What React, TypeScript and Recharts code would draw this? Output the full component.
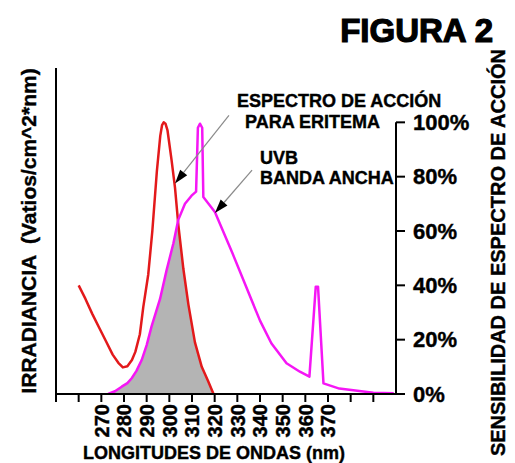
import React from 'react';
import { ComposedChart, Line, Area, XAxis, YAxis, ReferenceLine } from 'recharts';

// Eritema action spectrum (red), % scale
const eritemaX = [260, 263, 266, 269, 272, 275, 277.5, 279.5, 281.5, 283.5, 285, 287, 288.5, 290.7, 292.5, 294.5, 296, 296.8, 297.5, 298.3, 299.2, 301, 302.5, 304, 306.2, 308.4, 311.3, 314.3, 317, 319.5];
const eritemaY = [40, 35, 29.5, 24.5, 19.5, 14.5, 11.5, 9.8, 10.2, 12.5, 15.5, 22, 32, 44, 60, 82, 95, 99, 100, 99.5, 97, 86, 76, 62, 46, 33, 19, 10, 5, 0];

// UVB broadband lamp irradiance (magenta)
const uvbX = [273, 276, 279, 281.5, 283.4, 285.5, 287.8, 290, 292.2, 295.9, 298.8, 301.8, 303.9, 306.9, 309.8, 311.8, 312.6, 313.5, 314.5, 315, 320.1, 328, 340, 345, 351.7, 357.6, 361.8, 364.6, 365.6, 368, 375, 390, 399];
const uvbY = [0, 1, 2.7, 4, 5.8, 8.5, 12.5, 18, 25, 35, 45.6, 55.5, 64, 70, 73, 74.5, 98, 99.5, 98, 72.5, 67, 51.5, 27, 18.7, 11.3, 8.2, 6.4, 39.5, 39.5, 3.9, 2, 0.5, 0.3];

// Overlap region (gray)
const overlapX = [273, 276, 279, 281.5, 283.4, 285.5, 287.8, 290, 292.2, 295.9, 298.8, 301.8, 303.3, 304, 306.2, 308.4, 311.3, 314.3, 317, 319.5];
const overlapY = [0, 1, 2.7, 4, 5.8, 8.5, 12.5, 18, 25, 35, 45.6, 55.5, 62, 62, 46, 33, 19, 10, 5, 0];

const xTicks = [250, 260, 270, 280, 290, 300, 310, 320, 330, 340, 350, 360, 370, 380, 390];
const xLabeled = [270, 280, 290, 300, 310, 320, 330, 340, 350, 360, 370];
const leftTicks = [0, 20, 40, 60, 80, 100, 120];
const rightTicks = [0, 20, 40, 60, 80, 100];

const eritema = eritemaX.map((x, i) => ({ x, y: eritemaY[i] }));
const uvb = uvbX.map((x, i) => ({ x, y: uvbY[i] }));
const overlap = overlapX.map((x, i) => ({ x, y: overlapY[i] }));

const FONT = '"Liberation Sans", Arial, sans-serif';

const XTick = (props: any) => {
  const { x, y, payload } = props;
  if (!xLabeled.includes(payload.value)) return null;
  return (
    <text
      x={x}
      y={y}
      dy="0.36em"
      transform={`rotate(-90 ${x} ${y})`}
      textAnchor="end"
      fontFamily={FONT}
      fontWeight="bold"
      fontSize={20}
      fill="#000"
      stroke="#000"
      strokeWidth={0.4}
    >
      {payload.value}
    </text>
  );
};

const Arrow = (p: any) => {
  const { x1, y1, x2, y2 } = p;
  const ang = Math.atan2(y2 - y1, x2 - x1);
  const L = 14;
  const W = 4.5;
  const c = Math.cos(ang);
  const s = Math.sin(ang);
  const bx = x2 - L * c;
  const by = y2 - L * s;
  const pts = `${x2},${y2} ${bx - W * s},${by + W * c} ${bx + W * s},${by - W * c}`;
  return (
    <g>
      <line x1={x1} y1={y1} x2={bx} y2={by} stroke="#8a8a8a" strokeWidth={1.2} />
      <polygon points={pts} fill="#000" />
    </g>
  );
};

const arrow1 = [{ x: 326.3, y: 102.6 }, { x: 302.5, y: 77.5 }];
const arrow2 = [{ x: 336.5, y: 82.4 }, { x: 320.1, y: 66.6 }];

export default function App() {
  const txt = { fontFamily: FONT, fontWeight: 'bold' as const, fill: '#000', stroke: '#000', strokeWidth: 0.4 };
  return (
    <div style={{ position: 'absolute', left: 0, top: 0, width: 515, height: 463, background: '#fff' }}>
      <ComposedChart
        width={515}
        height={463}
        margin={{ top: 68, right: 19, bottom: 9, left: 16 }}
      >
        <XAxis
          xAxisId={0}
          type="number"
          dataKey="x"
          domain={[250, 400]}
          ticks={xTicks}
          interval={0}
          tick={<XTick />}
          tickSize={8}
          tickMargin={2}
          height={60}
          axisLine={{ stroke: '#000', strokeWidth: 2 }}
          tickLine={{ stroke: '#000', strokeWidth: 2 }}
          allowDataOverflow
        />
        <YAxis
          yAxisId="l"
          domain={[0, 120]}
          ticks={leftTicks}
          interval={0}
          tick={false}
          tickSize={9}
          width={40}
          axisLine={{ stroke: '#000', strokeWidth: 2 }}
          tickLine={{ stroke: '#000', strokeWidth: 2 }}
          allowDataOverflow
        />
        <YAxis
          yAxisId="r"
          orientation="right"
          domain={[0, 120]}
          ticks={rightTicks}
          interval={0}
          tickFormatter={(v: number) => `${v}%`}
          tick={{ fontSize: 22, fontWeight: 'bold', fill: '#000', fontFamily: FONT, stroke: '#000', strokeWidth: 0.4 }}
          tickSize={9}
          tickMargin={8}
          width={100}
          axisLine={false}
          tickLine={{ stroke: '#000', strokeWidth: 2 }}
          allowDataOverflow
        />
        <Area
          yAxisId="l"
          data={overlap}
          dataKey="y"
          type="linear"
          fill="#b4b4b4"
          fillOpacity={1}
          stroke="none"
          isAnimationActive={false}
        />
        <Line
          yAxisId="l"
          data={eritema}
          dataKey="y"
          type="linear"
          stroke="#e3191b"
          strokeWidth={2.5}
          strokeLinejoin="round"
          dot={false}
          isAnimationActive={false}
        />
        <Line
          yAxisId="l"
          data={uvb}
          dataKey="y"
          type="linear"
          stroke="#f516f5"
          strokeWidth={2.5}
          strokeLinejoin="round"
          dot={false}
          isAnimationActive={false}
        />
        <ReferenceLine
          yAxisId="l"
          segment={[{ x: 400, y: 0 }, { x: 400, y: 100 }]}
          stroke="#000"
          strokeWidth={2}
          ifOverflow="visible"
        />
        <ReferenceLine yAxisId="l" segment={arrow1} shape={Arrow} ifOverflow="visible" />
        <ReferenceLine yAxisId="l" segment={arrow2} shape={Arrow} ifOverflow="visible" />
      </ComposedChart>
      <svg
        width={515}
        height={463}
        style={{ position: 'absolute', left: 0, top: 0, pointerEvents: 'none' }}
      >
        <text x={493} y={42} textAnchor="end" fontSize={33} {...txt} strokeWidth={1.2}>FIGURA 2</text>
        <text x={237} y={107} fontSize={18} {...txt}>ESPECTRO DE ACCIÓN</text>
        <text x={245} y={128} fontSize={18} {...txt}>PARA ERITEMA</text>
        <text x={260} y={164} fontSize={18} {...txt}>UVB</text>
        <text x={260} y={184} fontSize={18} {...txt}>BANDA ANCHA</text>
        <text x={214} y={459} textAnchor="middle" fontSize={18} {...txt}>LONGITUDES DE ONDAS (nm)</text>
        <text
          x={36}
          y={231}
          transform="rotate(-90 36 231)"
          textAnchor="middle"
          fontSize={21}
          style={{ whiteSpace: 'pre' }}
          {...txt}
        >
          {'IRRADIANCIA  (Vatios/cm^2*nm)'}
        </text>
        <text
          x={505}
          y={49}
          transform="rotate(-90 505 49)"
          textAnchor="end"
          fontSize={20}
          {...txt}
        >
          SENSIBILIDAD DE ESPECTRO DE ACCIÓN
        </text>
      </svg>
    </div>
  );
}
